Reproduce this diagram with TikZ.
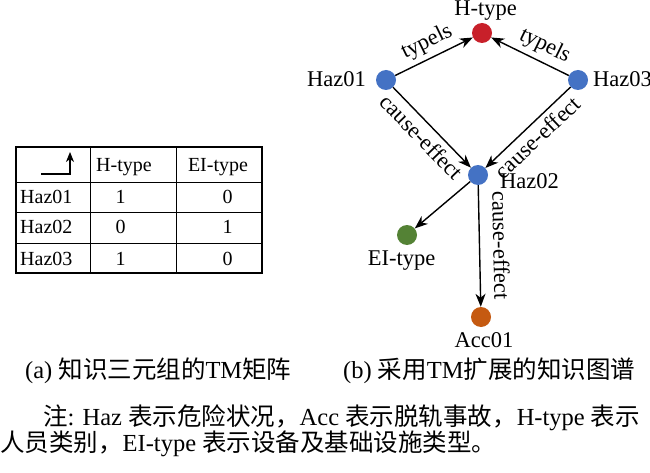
\documentclass[tikz,border=0pt]{standalone}
\usepackage{fontspec}
\setmainfont{Liberation Serif}
\newfontfamily\cjk{Noto Sans CJK SC}
\usetikzlibrary{arrows.meta}
\definecolor{typered}{HTML}{C8202A}
\definecolor{hazblue}{HTML}{4472C4}
\definecolor{eigreen}{HTML}{548235}
\definecolor{accorange}{HTML}{C55A11}
\tikzset{
  dot/.style={circle, minimum size=20pt, inner sep=0pt, fill=#1},
  lbl/.style={inner sep=0pt, font=\fontsize{22.5}{27}\selectfont},
  rel/.style={-{Stealth[length=13pt, width=10pt, inset=4pt]}, line width=1.4pt},
  rellbl/.style={sloped, inner sep=5pt, font=\fontsize{22.5}{27}\selectfont},
  cell/.style={inner sep=0pt, font=\fontsize{20}{24}\selectfont},
  captxt/.style={inner sep=0pt, anchor=base west, font=\fontsize{24.5}{29}\selectfont}
}
\begin{document}
\begin{tikzpicture}[x=1pt, y=-1pt]
        \useasboundingbox (0,0) rectangle (650,473);

        % TM matrix table
        \draw[line width=1.1pt] (16,147) rectangle (262,273);
        \draw[line width=0.9pt] (90,147) -- (90,273);
        \draw[line width=0.9pt] (176,147) -- (176,273);
        \draw[line width=0.9pt] (16,182) -- (262,182);
        \draw[line width=0.9pt] (16,212) -- (262,212);
        \draw[line width=0.9pt] (16,243) -- (262,243);

        % corner arrow
        \coordinate (cornerA) at (41,174);
        \coordinate (cornerB) at (70,174);
        \coordinate (cornerC) at (70,152);
        \draw[-{Stealth[length=10pt, width=8pt, inset=3pt]}, line width=1.1pt] (cornerA) -- (cornerB) -- (cornerC);

        % header and rows
        \node[cell, anchor=base] (colH) at (124,171.7) {H-type};
        \node[cell, anchor=base] (colEI) at (218,171.7) {EI-type};
        \node[cell, anchor=base west] (rowA) at (20,204) {Haz01};
        \node[cell, anchor=base west] (rowB) at (20,233.5) {Haz02};
        \node[cell, anchor=base west] (rowC) at (20,265) {Haz03};
        \node[cell, anchor=base] (valAH) at (120.7,204) {1};
        \node[cell, anchor=base] (valAE) at (227.7,204) {0};
        \node[cell, anchor=base] (valBH) at (120.7,233.5) {0};
        \node[cell, anchor=base] (valBE) at (227.7,233.5) {1};
        \node[cell, anchor=base] (valCH) at (120.7,265) {1};
        \node[cell, anchor=base] (valCE) at (227.7,265) {0};

        % graph nodes
        \node[dot=typered] (htype) at (482,33) {};
        \node[dot=hazblue] (haz1) at (386,80) {};
        \node[dot=hazblue] (haz3) at (578,80) {};
        \node[dot=hazblue] (haz2) at (478,175) {};
        \node[dot=eigreen] (eitype) at (407,235) {};
        \node[dot=accorange] (acc1) at (481,317) {};

        % graph node texts
        \node[lbl, anchor=base] (htypetxt) at (485.5,16) {H-type};
        \node[lbl, anchor=base east] (haz1txt) at (366,86.7) {Haz01};
        \node[lbl, anchor=base west] (haz3txt) at (593,86.7) {Haz03};
        \node[lbl, anchor=base west] (haz2txt) at (500,188.5) {Haz02};
        \node[lbl, anchor=base] (eitypetxt) at (401.5,265) {EI-type};
        \node[lbl, anchor=base] (acc1txt) at (484,347) {Acc01};

        % relations
        \draw[rel] (haz1) -- node[rellbl, above] (typeA) {typels} (htype);
        \draw[rel] (haz3) -- node[rellbl, above, pos=0.4] (typeB) {typels} (htype);
        \draw[rel] (haz1) -- node[rellbl, below] (causeA) {cause-effect} (haz2);
        \draw[rel] (haz3) -- node[rellbl, below] (causeB) {cause-effect} (haz2);
        \draw[rel] (haz2) -- (eitype);
        \draw[rel] (haz2) -- node[rellbl, above, inner ysep=13pt] (causeC) {cause-effect} (acc1);

        % captions
        \node[captxt] (capA) at (25,378.5) {(a) {\cjk 知识三元组的}TM{\cjk 矩阵}};
        \node[captxt] (capB) at (343,378.5) {(b) {\cjk 采用}TM{\cjk 扩展的知识图谱}};

        % note
        \node[captxt] (noteA) at (43,425) {{\cjk 注}: Haz {\cjk 表示危险状况，}Acc {\cjk 表示脱轨事故，}H-type {\cjk 表示}};
        \node[captxt] (noteB) at (0,451) {{\cjk 人员类别，}EI-type {\cjk 表示设备及基础设施类型。}};
    \end{tikzpicture}
\end{document}
